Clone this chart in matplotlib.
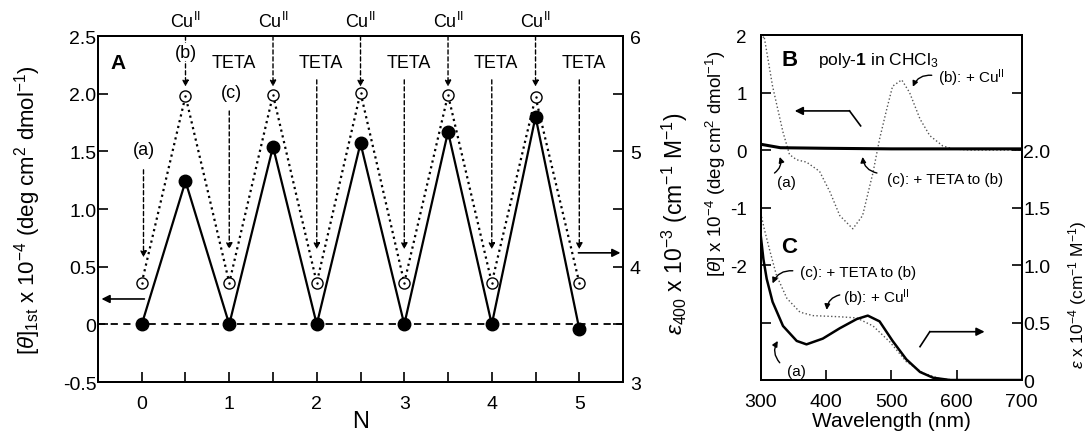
import numpy as np
from matplotlib import pyplot as plt

plt.rcParams['font.family'] = ['Liberation Sans', 'DejaVu Sans']
plt.rcParams['mathtext.fontset'] = 'custom'
plt.rcParams['mathtext.rm'] = 'Liberation Sans'
plt.rcParams['mathtext.it'] = 'Liberation Sans:italic'
plt.rcParams['mathtext.bf'] = 'Liberation Sans:bold'

# panel A: titration cycles
n_steps = [0, 0.5, 1, 1.5, 2, 2.5, 3, 3.5, 4, 4.5, 5]
theta_1st = [0.0, 1.24, 0.0, 1.54, 0.0, 1.57, 0.0, 1.67, 0.0, 1.80, -0.04]
eps_400 = [3.86, 5.48, 3.86, 5.49, 3.86, 5.51, 3.86, 5.49, 3.86, 5.47, 3.86]
cu_steps = [0.5, 1.5, 2.5, 3.5, 4.5]
teta_steps = [1, 2, 3, 4, 5]

# panel B: CD spectra
wl_cd_b = [300, 305, 318, 334, 344, 355, 370, 390, 406, 421, 441, 456, 472,
           482, 493, 502, 516, 528, 544, 559, 579, 594, 620, 700]
cd_b = [1.9, 1.98, 1.11, 0.31, -0.08, -0.17, -0.21, -0.37, -0.73, -1.14, -1.37,
        -1.14, -0.39, 0.19, 0.71, 1.11, 1.22, 1.0, 0.54, 0.25, 0.07, 0.02, 0.0, 0.0]
wl_cd_ac = [300, 310, 330, 400, 500, 600, 700]
cd_ac = [0.1, 0.08, 0.04, 0.03, 0.02, 0.02, 0.02]

# panel C: absorption spectra
wl_abs_a = [300, 304, 309, 318, 334, 355, 370, 395, 421, 447, 464, 482, 502,
            523, 544, 564, 590, 700]
abs_a = [1.25, 1.05, 0.88, 0.68, 0.47, 0.34, 0.31, 0.36, 0.45, 0.53, 0.56,
         0.51, 0.34, 0.18, 0.07, 0.02, 0.0, 0.0]
wl_abs_b = [300, 305, 314, 324, 340, 360, 380, 421, 447, 472, 498, 523, 549,
            575, 600, 700]
abs_b = [1.45, 1.32, 1.12, 0.91, 0.71, 0.59, 0.56, 0.55, 0.54, 0.47, 0.33,
         0.16, 0.06, 0.01, 0.0, 0.0]

fig = plt.figure(figsize=(10.9, 4.35), dpi=100)

ax = fig.add_axes([0.0899, 0.1195, 0.4817, 0.7954])
ax2 = ax.twinx()
ax.set_xlim(-0.5, 5.5)
ax.set_ylim(-0.5, 2.5)
ax2.set_ylim(3, 6)

ax.axhline(0, ls='--', color='k', lw=1.3, dashes=(4, 3))
ax.plot(n_steps, theta_1st, '-', color='k', lw=1.6, marker='o', ms=9, zorder=3)
ax2.plot(n_steps, eps_400, ':', color='k', lw=1.6, marker='o', ms=8,
         mfc='white', mec='k', mew=1.0)
ax2.plot(n_steps, eps_400, ls='none', marker='.', ms=1.5, color='k')

ax.set_yticks(np.arange(-0.5, 2.51, 0.5))
ax.set_yticklabels(['-0.5', '0', '0.5', '1.0', '1.5', '2.0', '2.5'])
ax.set_xticks(range(6))
ax.set_xticks(np.arange(-0.5, 5.6, 0.5), minor=True)
ax2.set_yticks([3, 4, 5, 6])
ax2.set_yticks([3.5, 4.5, 5.5], minor=True)
for a in (ax, ax2):
    a.tick_params(direction='in', length=7, width=1.2, labelsize=14)
    a.tick_params(which='minor', direction='in', length=7, width=1.2)
    for s in a.spines.values():
        s.set_linewidth(1.4)
ax.tick_params(axis='y', which='both', right=False, pad=1)
ax.tick_params(axis='x', pad=9)
ax2.tick_params(axis='y', pad=5)

ax.set_xlabel('N', fontsize=17, labelpad=-1)
ax.set_ylabel(r'$[\theta]_{\rm 1st}$ x 10$^{-4}$ (deg cm$^2$ dmol$^{-1}$)', fontsize=16)
ax.yaxis.set_label_coords(-0.105, 0.5)
ax2.set_ylabel(r'$\varepsilon_{400}$ x 10$^{-3}$ (cm$^{-1}$ M$^{-1}$)', fontsize=16.5)
ax2.yaxis.set_label_coords(1.07, 0.46)

dash_arrow = dict(arrowstyle='-|>', linestyle=(0, (3, 2)), lw=1.0, color='k',
                  mutation_scale=9, shrinkA=0, shrinkB=0)
for x in cu_steps:
    ax.text(x, 2.63, r'Cu$^{\rm II}$', ha='center', va='center', fontsize=13, clip_on=False)
    ax.annotate('', xy=(x, 2.06), xytext=(x, 2.5), arrowprops=dash_arrow)
for x in teta_steps:
    ax.text(x + 0.05, 2.27, 'TETA', ha='center', va='center', fontsize=13)
    start = 1.85 if x == 1 else 2.12
    ax.annotate('', xy=(x, 0.65), xytext=(x, start), arrowprops=dash_arrow)
ax.annotate('', xy=(0.02, 0.58), xytext=(0.02, 1.34), arrowprops=dash_arrow)

ax.text(0.5, 2.36, '(b)', ha='center', va='center', fontsize=13,
        bbox=dict(facecolor='white', edgecolor='none', pad=0.5))
ax.text(0.03, 1.52, '(a)', ha='center', va='center', fontsize=13)
ax.text(1.03, 2.01, '(c)', ha='center', va='center', fontsize=13)
ax.text(-0.27, 2.27, 'A', ha='center', va='center', fontsize=15, fontweight='bold')

solid_arrow = dict(arrowstyle='-|>', lw=1.2, color='k', mutation_scale=12,
                   shrinkA=0, shrinkB=0)
ax.annotate('', xy=(-0.46, 0.22), xytext=(0.03, 0.22), arrowprops=solid_arrow)
ax.annotate('', xy=(5.47, 0.62), xytext=(4.99, 0.62), arrowprops=solid_arrow)

# panels B and C share one box
ax3 = fig.add_axes([0.698, 0.1241, 0.2394, 0.7931])
ax4 = ax3.twinx()
ax3.set_xlim(300, 700)
ax3.set_ylim(-4, 2)
ax4.set_ylim(0, 3)

ax3.plot(wl_cd_b, cd_b, ':', color='#555555', lw=1.0)
ax3.plot(wl_cd_ac, cd_ac, '-', color='k', lw=2.2)
ax4.plot(wl_abs_b, abs_b, ':', color='#555555', lw=1.0)
ax4.plot(wl_abs_a, abs_a, '-', color='k', lw=1.8)

ax3.set_xticks([300, 400, 500, 600, 700])
ax3.set_yticks([-3, -2, -1, 0, 1, 2])
ax3.set_yticklabels(['', '-2', '-1', '0', '1', '2'])
ax4.set_yticks([0, 0.5, 1.0, 1.5, 2.0, 2.5])
ax4.set_yticklabels(['0', '0.5', '1.0', '1.5', '2.0', ''])
for a in (ax3, ax4):
    a.tick_params(direction='in', length=7, width=1.2, labelsize=14)
    for s in a.spines.values():
        s.set_linewidth(1.4)
ax3.tick_params(axis='x', pad=9)
ax3.tick_params(axis='y', pad=10, labelsize=13.5)
ax4.tick_params(axis='y', pad=1)

ax3.set_xlabel('Wavelength (nm)', fontsize=15, labelpad=1)
ax3.set_ylabel(r'$[\theta]$ x 10$^{-4}$ (deg cm$^2$ dmol$^{-1}$)', fontsize=13.5)
ax3.yaxis.set_label_coords(-0.125, 0.63)
ax4.set_ylabel(r'$\varepsilon$ x 10$^{-4}$ (cm$^{-1}$ M$^{-1}$)', fontsize=12.5)
ax4.yaxis.set_label_coords(1.17, 0.25)

curl = dict(arrowstyle='-|>', lw=1.0, color='k', mutation_scale=8,
            shrinkA=0, shrinkB=0, connectionstyle='arc3,rad=0.35')

ax3.text(344, 1.58, 'B', ha='center', va='center', fontsize=16, fontweight='bold')
ax3.text(388, 1.58, r'poly-$\mathbf{1}$ in CHCl$_3$', ha='left', va='center', fontsize=12.5)
ax3.text(571, 1.27, r'(b): + Cu$^{\rm II}$', ha='left', va='center', fontsize=11)
ax3.annotate('', xy=(533, 1.10), xytext=(562, 1.30), arrowprops=curl)
ax3.plot([453, 436], [0.42, 0.68], color='k', lw=1.2)
ax3.annotate('', xy=(352, 0.68), xytext=(436, 0.68), arrowprops=solid_arrow)
ax3.text(340, -0.56, '(a)', ha='center', va='center', fontsize=11)
ax3.annotate('', xy=(329, -0.12), xytext=(321, -0.40), arrowprops=curl)
ax3.text(493, -0.5, '(c): + TETA to (b)', ha='left', va='center', fontsize=11)
ax3.annotate('', xy=(456, -0.12), xytext=(478, -0.40),
             arrowprops=dict(curl, connectionstyle='arc3,rad=-0.35'))

ax4.text(344, 1.16, 'C', ha='center', va='center', fontsize=16, fontweight='bold')
ax4.text(360, 0.94, '(c): + TETA to (b)', ha='left', va='center', fontsize=11)
ax4.annotate('', xy=(318, 0.84), xytext=(349, 0.95),
             arrowprops=dict(curl, connectionstyle='arc3,rad=0.35'))
ax4.text(426, 0.72, r'(b): + Cu$^{\rm II}$', ha='left', va='center', fontsize=11)
ax4.annotate('', xy=(401, 0.61), xytext=(421, 0.74), arrowprops=curl)
ax4.text(355, 0.08, '(a)', ha='center', va='center', fontsize=11)
ax4.annotate('', xy=(326, 0.34), xytext=(329, 0.15),
             arrowprops=dict(curl, connectionstyle='arc3,rad=-0.35'))
ax4.plot([544, 559], [0.29, 0.42], color='k', lw=1.2)
ax4.annotate('', xy=(643, 0.42), xytext=(559, 0.42), arrowprops=solid_arrow)

plt.savefig('out.png', dpi=100)
